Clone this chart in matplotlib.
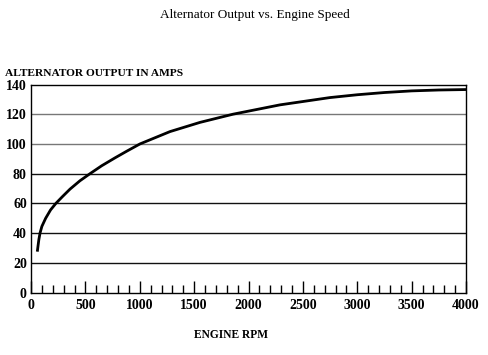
import matplotlib
matplotlib.use("Agg")
import matplotlib.pyplot as plt
from matplotlib.ticker import MultipleLocator

rpm = [58, 64, 72, 83, 100, 135, 180, 229, 290, 359, 450, 543, 650, 772, 880, 1002, 1278, 1554, 1857, 2290, 2749, 3000, 3250, 3500, 3750, 4000]
amps = [27.5, 31, 35.5, 40, 44.5, 50, 55.6, 60, 64.6, 69.6, 75.2, 80, 85.3, 90.6, 95.1, 100, 108.3, 114.5, 120, 126.3, 131.2, 133.1, 134.6, 135.7, 136.3, 136.6]
x_ticks = [0, 500, 1000, 1500, 2000, 2500, 3000, 3500, 4000]
y_ticks = [0, 20, 40, 60, 80, 100, 120, 140]
grid_levels = [20, 40, 60, 80, 100, 120]
grid_colors = ['#111111', '#111111', '#111111', '#111111', '#777777', '#777777']

plt.rcParams['font.family'] = ['Liberation Serif', 'DejaVu Serif']

fig = plt.figure(figsize=(4.88, 3.55), dpi=100)
ax = fig.add_axes([31/488, 1-292.5/355, 435/488, 208/355])

for lv, c in zip(grid_levels, grid_colors):
    ax.axhline(lv, color=c, lw=1.0, zorder=1)

ax.plot(rpm, amps, color='black', lw=2.0, zorder=3, solid_capstyle='butt', solid_joinstyle='round')

ax.set_xlim(0, 4000)
ax.set_ylim(0, 140)
ax.set_xticks(x_ticks)
ax.set_yticks(y_ticks)
ax.xaxis.set_minor_locator(MultipleLocator(100))
ax.tick_params(axis='x', which='major', direction='in', length=9, width=1.0, pad=5, labelsize=10)
ax.tick_params(axis='x', which='minor', direction='in', length=6, width=1.0)
ax.tick_params(axis='y', which='major', length=0, pad=3, labelsize=10)
for lab in ax.get_xticklabels() + ax.get_yticklabels():
    lab.set_fontweight('bold')
for s in ax.spines.values():
    s.set_linewidth(1.0)
    s.set_color('black')

fig.text(0.523, 1-15/355, 'Alternator Output vs. Engine Speed', ha='center', va='center', fontsize=9.5)
fig.text(5/488, 1-73/355, 'ALTERNATOR OUTPUT IN AMPS', ha='left', va='center', fontsize=8.2, fontweight='bold')
fig.text(231/488, 1-335/355, 'ENGINE RPM', ha='center', va='center', fontsize=8.3, fontweight='bold')

fig.savefig('out.png', dpi=100)
